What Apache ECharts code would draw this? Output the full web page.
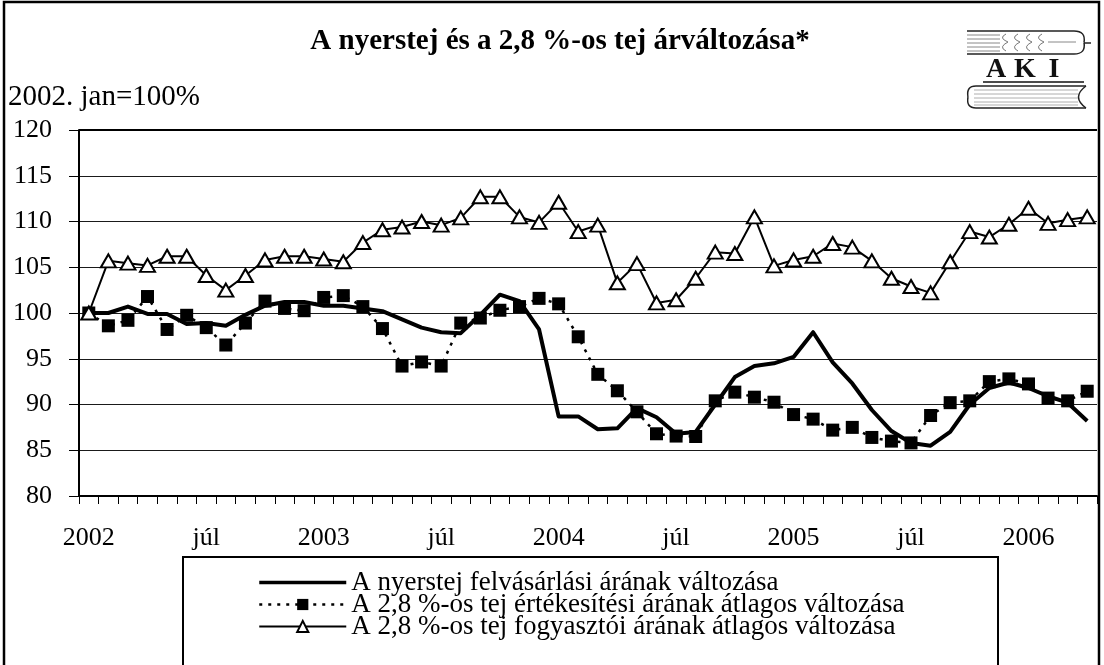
<!DOCTYPE html>
<html>
<head>
<meta charset="utf-8">
<script src="https://cdn.jsdelivr.net/npm/echarts@6/dist/echarts.min.js"></script>
<style>
html,body{margin:0;padding:0;background:#fff;}
#chart{width:1104px;height:665px;}
</style>
</head>
<body>
<div id="chart"></div>
<script>
// ---- data ----
const years = ['2002', '2003', '2004', '2005', '2006'];
const monthNames = ['', 'febr', 'márc', 'ápr', 'máj', 'jún', 'júl', 'aug', 'szept', 'okt', 'nov', 'dec'];
const monthCount = 52; // 2002 jan – 2006 ápr

const seriesNames = [
  'A nyerstej felvásárlási árának változása',
  'A 2,8 %-os tej értékesítési árának átlagos változása',
  'A 2,8 %-os tej fogyasztói árának átlagos változása'
];

const rawMilk = [
  100, 100, 100.7, 99.9, 99.9, 98.8, 98.9, 98.6, 99.8, 100.8, 101.2, 101.2,
  100.8, 100.8, 100.5, 100.2, 99.3, 98.4, 97.9, 97.8, 99.8, 102.0, 101.3, 98.2,
  88.7, 88.7, 87.3, 87.4, 89.6, 88.6, 86.8, 87.0, 90.0, 93.0, 94.2, 94.5,
  95.2, 97.9, 94.6, 92.3, 89.4, 87.1, 85.8, 85.5, 87.0, 90.0, 91.8, 92.4,
  91.8, 90.9, 90.2, 88.2
];
const salesPrice = [
  100, 98.6, 99.2, 101.8, 98.2, 99.75, 98.4, 96.5, 98.9, 101.3, 100.5, 100.25,
  101.7, 101.9, 100.7, 98.3, 94.2, 94.65, 94.2, 98.9, 99.45, 100.3, 100.7, 101.6,
  101.0, 97.4, 93.3, 91.5, 89.2, 86.8, 86.55, 86.5, 90.4, 91.35, 90.8, 90.25,
  88.9, 88.4, 87.2, 87.5, 86.4, 86.0, 85.8, 88.8, 90.2, 90.4, 92.5, 92.8,
  92.25, 90.7, 90.4, 91.45
];
const consumerPrice = [
  100, 105.7, 105.45, 105.2, 106.2, 106.2, 104.1, 102.5, 104.1, 105.8, 106.2, 106.2,
  105.9, 105.6, 107.7, 109.1, 109.4, 110.0, 109.6, 110.4, 112.7, 112.7, 110.5, 109.9,
  112.1, 108.9, 109.6, 103.3, 105.4, 101.1, 101.45, 103.8, 106.65, 106.5, 110.5, 105.15,
  105.8, 106.2, 107.6, 107.2, 105.7, 103.8, 102.9, 102.2, 105.6, 108.9, 108.3, 109.7,
  111.45, 109.8, 110.2, 110.5
];

const categories = [];
for (let i = 0; i < monthCount; i++) {
  const m = i % 12;
  categories.push(m === 0 ? years[Math.floor(i / 12)] : monthNames[m]);
}

const FONT = '"Liberation Serif", "Times New Roman", serif';

const chart = echarts.init(document.getElementById('chart'), null, {renderer: 'canvas'});

function ln(x1, y1, x2, y2, color, w) {
  return {type: 'line', z: 100, silent: true, shape: {x1: x1, y1: y1, x2: x2, y2: y2},
    style: {stroke: color, lineWidth: w}};
}
function bz(x1, y1, cx, cy, x2, y2, color, w) {
  return {type: 'bezierCurve', z: 100, silent: true,
    shape: {x1: x1, y1: y1, cpx1: cx, cpy1: cy, x2: x2, y2: y2},
    style: {stroke: color, lineWidth: w, fill: null}};
}

const logo = [];
// wheat bar outline
logo.push(ln(967, 31, 1074, 31, '#222', 1.5));
logo.push(ln(967, 54, 1074, 54, '#222', 1.5));
logo.push(bz(1074, 31, 1086, 31, 1084, 42.5, '#222', 1.5));
logo.push(bz(1084, 42.5, 1086, 54, 1074, 54, '#222', 1.5));
logo.push(ln(1084, 43, 1091, 43, '#222', 1.5));
[35, 39, 43, 47, 51].forEach(function (y) { logo.push(ln(967, y, 1000, y, '#888', 1)); });
[1006, 1018, 1030, 1042].forEach(function (x) {
  logo.push(bz(x, 34, x - 8, 38, x + 2, 42, '#777', 1));
  logo.push(bz(x + 2, 42, x - 8, 47, x, 51, '#777', 1));
});
logo.push(ln(1048, 42, 1076, 42, '#888', 1));
// letters
['A', 'K', 'I'].forEach(function (t, k) {
  logo.push({type: 'text', x: 996 + k * 29, y: 70, z: 100,
    style: {text: t, fontFamily: FONT, fontWeight: 'bold', fontSize: 28, fill: '#111', align: 'center', verticalAlign: 'middle'}});
});
logo.push(ln(983, 82, 1084, 82, '#111', 1.5));
// book
logo.push(ln(976, 86, 1086, 86, '#222', 1.5));
logo.push(ln(976, 108, 1086, 108, '#222', 1.5));
logo.push(bz(976, 86, 966, 86, 968, 97, '#222', 1.5));
logo.push(bz(968, 97, 966, 108, 976, 108, '#222', 1.5));
logo.push(bz(1086, 86, 1071, 97, 1086, 108, '#222', 1.5));
[90, 94, 98, 102, 105].forEach(function (y) { logo.push(ln(974, y, 1078, y, '#999', 0.8)); });

const option = {
  backgroundColor: '#fff',
  animation: false,
  textStyle: {fontFamily: FONT, color: '#000'},
  grid: {left: 79, right: 7, top: 130, bottom: 169, containLabel: false},
  xAxis: {
    type: 'category',
    data: categories,
    boundaryGap: true,
    axisLine: {lineStyle: {color: '#000', width: 2}},
    axisTick: {show: true, interval: 0, length: 8, lineStyle: {color: '#000', width: 1}},
    axisLabel: {
      interval: 5,
      margin: 29,
      fontSize: 26,
      fontFamily: FONT,
      color: '#000'
    },
    splitLine: {show: false}
  },
  yAxis: {
    type: 'value',
    min: 80,
    max: 120,
    interval: 5,
    axisLine: {show: true, lineStyle: {color: '#000', width: 2}},
    axisTick: {show: true, length: 10, lineStyle: {color: '#000', width: 1}},
    axisLabel: {margin: 27, fontSize: 26, fontFamily: FONT, color: '#000'},
    splitLine: {show: true, lineStyle: {color: '#1a1a1a', width: 1}}
  },
  legend: {
    orient: 'vertical',
    left: 258,
    top: 569,
    itemGap: -5,
    itemWidth: 87,
    itemHeight: 14,
    padding: 0,
    textStyle: {fontSize: 27, fontFamily: FONT, color: '#000', lineHeight: 21},
    data: [
      {name: seriesNames[0], icon: 'path://M0,0L100,0L100,4L0,4Z', lineStyle: {width: 4, color: '#000'}},
      {name: seriesNames[1], lineStyle: {width: 2.5, color: '#000', type: [3, 6]}},
      {name: seriesNames[2], lineStyle: {width: 2, color: '#000'}}
    ]
  },
  series: [
    {
      name: seriesNames[0],
      type: 'line',
      data: rawMilk,
      symbol: 'none',
      showSymbol: false,
      lineStyle: {color: '#000', width: 4, join: 'round'},
      itemStyle: {color: '#000'},
      z: 2
    },
    {
      name: seriesNames[1],
      type: 'line',
      data: salesPrice,
      symbol: 'rect',
      symbolSize: 13,
      showSymbol: true,
      lineStyle: {color: '#000', width: 2.5, type: [3, 6]},
      itemStyle: {color: '#000', borderColor: '#000', borderWidth: 0},
      z: 3
    },
    {
      name: seriesNames[2],
      type: 'line',
      data: consumerPrice,
      symbol: 'triangle',
      symbolSize: [15, 13],
      showSymbol: true,
      lineStyle: {color: '#000', width: 2},
      itemStyle: {color: '#fff', borderColor: '#000', borderWidth: 2},
      z: 4
    }
  ],
  graphic: [
    {type: 'rect', z: 100, silent: true,
      shape: {x: 4, y: 2, width: 1095, height: 700},
      style: {fill: null, stroke: '#000', lineWidth: 2.5}},
    {type: 'line', z: 100, silent: true, shape: {x1: 79, y1: 130, x2: 1097, y2: 130},
      style: {stroke: '#000', lineWidth: 2}},
    {type: 'text', x: 560, y: 42, z: 100,
      style: {text: 'A nyerstej és a 2,8 %-os tej árváltozása*', fontFamily: FONT, fontWeight: 'bold', fontSize: 29,
        fill: '#000', align: 'center', verticalAlign: 'middle'}},
    {type: 'text', x: 8, y: 97, z: 100,
      style: {text: '2002. jan=100%', fontFamily: FONT, fontSize: 29, fill: '#000', align: 'left', verticalAlign: 'middle'}},
    {type: 'rect', z: 100, silent: true,
      shape: {x: 183, y: 557, width: 815, height: 200},
      style: {fill: null, stroke: '#000', lineWidth: 2}}
  ].concat(logo)
};

chart.setOption(option);
</script>
</body>
</html>
